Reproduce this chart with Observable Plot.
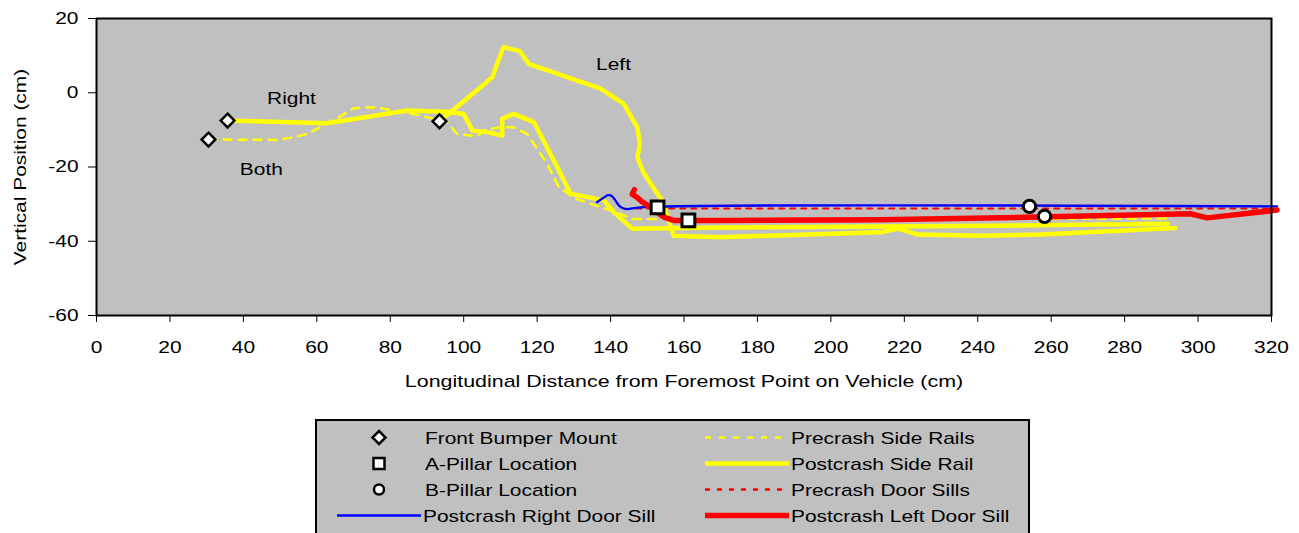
<!DOCTYPE html>
<html>
<head>
<meta charset="utf-8">
<script src="https://cdn.jsdelivr.net/npm/d3@7"></script>
<script src="https://cdn.jsdelivr.net/npm/@observablehq/plot@0.6"></script>
<style>
  html, body { margin: 0; padding: 0; background: #ffffff; overflow: hidden; }
  #chart svg, #legend svg { display: block; }
</style>
</head>
<body>
<div id="chart"></div>
<div id="legend"></div>
<script>
// Axis ticks and titles
const xTicks = [0, 20, 40, 60, 80, 100, 120, 140, 160, 180, 200, 220, 240, 260, 280, 300, 320];
const yTicks = [-60, -40, -20, 0, 20];
const xTitle = "Longitudinal Distance from Foremost Point on Vehicle (cm)";
const yTitle = "Vertical Position (cm)";

// Landmark points [x, y] in cm
const bumperMounts = [[30.5, -12.6], [35.7, -7.5], [93.4, -7.7]];
const aPillars = [[152.8, -30.9], [161.2, -34.4]];
const bPillars = [[254.1, -30.6], [258.2, -33.3]];

// Side rail profiles [x, y] in cm
const precrashRails = [
  [30.5, -12.6], [49.2, -12.7], [53.6, -12.0], [57.7, -11.0], [61.8, -8.8], [65.5, -6.9],
  [70.0, -4.2], [74.6, -3.9], [77.3, -4.1], [80.9, -4.8], [86.3, -5.7], [90.1, -6.6],
  [95.5, -7.9], [98.2, -11.1], [103.5, -11.7], [106.0, -10.0], [110.0, -9.3], [113.6, -9.3],
  [117.3, -11.1], [122.7, -19.1], [125.9, -25.4], [130.4, -28.5], [140.0, -31.7],
  [146.2, -34.0], [160.0, -34.0], [291.7, -33.9]
];
const postcrashRightRail = [
  [35.7, -7.5], [62.8, -8.2], [84.6, -4.8], [95.5, -5.1], [100.0, -5.7], [102.4, -10.2],
  [106.4, -10.6], [110.5, -11.5], [110.5, -7.0], [113.6, -5.7], [119.1, -7.9],
  [125.5, -20.1], [129.1, -27.2], [138.2, -29.0], [140.9, -32.2], [145.9, -36.6],
  [169.9, -36.3], [246.2, -35.8], [291.7, -35.3]
];
const postcrashLeftRail = [
  [93.4, -7.7], [104.6, 1.5], [107.8, 4.2], [110.8, 12.3], [115.3, 11.2], [117.7, 7.8],
  [137.3, 1.1], [143.6, -3.0], [147.3, -9.3], [148.0, -13.8], [147.3, -17.4], [148.9, -21.4],
  [154.0, -29.0], [157.2, -38.5], [169.9, -38.9], [213.5, -37.6], [218.4, -36.6],
  [223.6, -38.2], [240.7, -38.5], [257.1, -38.2], [293.8, -36.4]
];

// Door sill profiles [x, y] in cm
const precrashSills = [[147.0, -31.2], [321.5, -31.2]];
const postcrashRightSill = [
  [136.3, -29.5], [137.8, -28.5], [139.3, -27.6], [140.3, -27.8], [141.3, -29.0],
  [142.5, -30.6], [144.0, -31.3], [149.0, -30.8], [321.5, -30.6]
];
const postcrashLeftSill = [
  [146.5, -26.1], [145.9, -27.3], [147.3, -28.2], [148.5, -29.3], [150.5, -30.6],
  [154.5, -33.5], [157.2, -34.4], [169.9, -34.4], [213.5, -34.2], [256.2, -33.5],
  [297.9, -32.6], [302.5, -33.7], [321.5, -31.6]
];

// In-plot labels
const annotations = [
  {x: 53.1, y: -1.6, text: "Right"},
  {x: 140.8, y: 7.6, text: "Left"},
  {x: 44.9, y: -20.7, text: "Both"}
];

// Legend entries
const legendLeft = ["Front Bumper Mount", "A-Pillar Location", "B-Pillar Location", "Postcrash Right Door Sill"];
const legendRight = ["Precrash Side Rails", "Postcrash Side Rail", "Precrash Door Sills", "Postcrash Left Door Sill"];

const YELLOW = "#FFFF00", RED = "#FF0000", BLUE = "#0000FF", PANEL = "#C0C0C0";
const FONT = '"Liberation Sans", Arial, Helvetica, sans-serif';
const STRETCH = 1.23;

const px = d => d[0], py = d => d[1];

const chart = Plot.plot({
  width: 1299,
  height: 410,
  marginTop: 18,
  marginLeft: 96,
  marginRight: 28,
  marginBottom: 95,
  style: {fontFamily: FONT, fontSize: "17px", color: "black", background: "transparent", overflow: "visible"},
  x: {domain: [0, 320]},
  y: {domain: [-60, 20]},
  marks: [
    Plot.frame({fill: PANEL}),
    Plot.axisX({ticks: xTicks, tickSize: 7, tickPadding: 18, label: null, tickFormat: d => String(d)}),
    Plot.axisY({ticks: yTicks, tickSize: 8, tickPadding: 10, label: null, tickFormat: d => String(d)}),
    Plot.line(precrashRails, {x: px, y: py, stroke: YELLOW, strokeWidth: 2.5, strokeDasharray: "8,7"}),
    Plot.line(postcrashRightRail, {x: px, y: py, stroke: YELLOW, strokeWidth: 4.5, strokeLinejoin: "round"}),
    Plot.line(postcrashLeftRail, {x: px, y: py, stroke: YELLOW, strokeWidth: 4.5, strokeLinejoin: "round"}),
    Plot.line(precrashSills, {x: px, y: py, stroke: RED, strokeWidth: 2, strokeDasharray: "5,6"}),
    Plot.line(postcrashRightSill, {x: px, y: py, stroke: BLUE, strokeWidth: 2.3, strokeLinejoin: "round", curve: "catmull-rom"}),
    Plot.line(postcrashLeftSill, {x: px, y: py, stroke: RED, strokeWidth: 5.5, strokeLinejoin: "round"}),
    Plot.dot(bumperMounts, {x: px, y: py, symbol: "diamond2", r: 6.2, fill: "white", stroke: "black", strokeWidth: 2.5}),
    Plot.dot(aPillars, {x: px, y: py, symbol: "square", r: 7.2, fill: "white", stroke: "black", strokeWidth: 3}),
    Plot.dot(bPillars, {x: px, y: py, symbol: "circle", r: 6.2, fill: "white", stroke: "black", strokeWidth: 3}),
    Plot.text(annotations, {x: "x", y: "y", text: "text", fill: "black", fontSize: 17}),
    Plot.text([yTitle], {text: d => d, frameAnchor: "left", dx: -76, rotate: -90, textAnchor: "middle", lineAnchor: "middle", fill: "black", fontSize: 17}),
    Plot.text([xTitle], {text: d => d, frameAnchor: "bottom", dy: 66, textAnchor: "middle", lineAnchor: "middle", fill: "black", fontSize: 17}),
    Plot.frame({stroke: "black", strokeWidth: 2})
  ]
});
document.getElementById("chart").appendChild(chart);

// The typeface is set wide: stretch each label horizontally.
function widen(svgNode, k, special = {}) {
  svgNode.querySelectorAll("text").forEach(t => {
    const spans = t.querySelectorAll("tspan");
    const targets = spans.length ? Array.from(spans) : [t];
    targets.forEach(s => {
      const len = s.getComputedTextLength();
      const f = special[s.textContent] || k;
      if (len > 0) {
        s.setAttribute("textLength", (len * f).toFixed(2));
        s.setAttribute("lengthAdjust", "spacingAndGlyphs");
      }
    });
  });
}
widen(chart, STRETCH, {[xTitle]: 1.26});

// Legend box below the chart
const top0 = 410;
const legend = d3.create("svg")
  .attr("width", 1299)
  .attr("height", 533 - top0)
  .style("font-family", FONT)
  .style("font-size", "17px");

legend.append("rect")
  .attr("x", 316).attr("y", 420 - top0)
  .attr("width", 713).attr("height", 140)
  .attr("fill", PANEL).attr("stroke", "black").attr("stroke-width", 2);

const rowY = [437.5, 463.5, 489.5, 515.5].map(v => v - top0);
const symX = 379;

// Column one: marker swatches
const dia = 6.5;
legend.append("path")
  .attr("d", `M${symX},${rowY[0] - dia}L${symX + dia},${rowY[0]}L${symX},${rowY[0] + dia}L${symX - dia},${rowY[0]}Z`)
  .attr("fill", "white").attr("stroke", "black").attr("stroke-width", 2.5);
legend.append("rect")
  .attr("x", symX - 5.5).attr("y", rowY[1] - 5.5).attr("width", 11).attr("height", 11)
  .attr("fill", "white").attr("stroke", "black").attr("stroke-width", 2.5);
legend.append("circle")
  .attr("cx", symX).attr("cy", rowY[2]).attr("r", 5)
  .attr("fill", "white").attr("stroke", "black").attr("stroke-width", 2.5);
legend.append("line")
  .attr("x1", 337).attr("x2", 421).attr("y1", rowY[3]).attr("y2", rowY[3])
  .attr("stroke", BLUE).attr("stroke-width", 2.3);

// Column two: line swatches
const swatches = [
  {stroke: YELLOW, width: 2.5, dash: "6,8"},
  {stroke: YELLOW, width: 4.5, dash: null},
  {stroke: RED, width: 2.5, dash: "5,7"},
  {stroke: RED, width: 5.5, dash: null}
];
swatches.forEach((s, i) => {
  const ln = legend.append("line")
    .attr("x1", 705).attr("x2", 789).attr("y1", rowY[i]).attr("y2", rowY[i])
    .attr("stroke", s.stroke).attr("stroke-width", s.width);
  if (s.dash) ln.attr("stroke-dasharray", s.dash);
});

legendLeft.forEach((label, i) => {
  legend.append("text").attr("x", i === 3 ? 423 : 425).attr("y", rowY[i] + 6).attr("fill", "black").text(label);
});
legendRight.forEach((label, i) => {
  legend.append("text").attr("x", 791).attr("y", rowY[i] + 6).attr("fill", "black").text(label);
});

document.getElementById("legend").appendChild(legend.node());
widen(legend.node(), STRETCH);
</script>
</body>
</html>
